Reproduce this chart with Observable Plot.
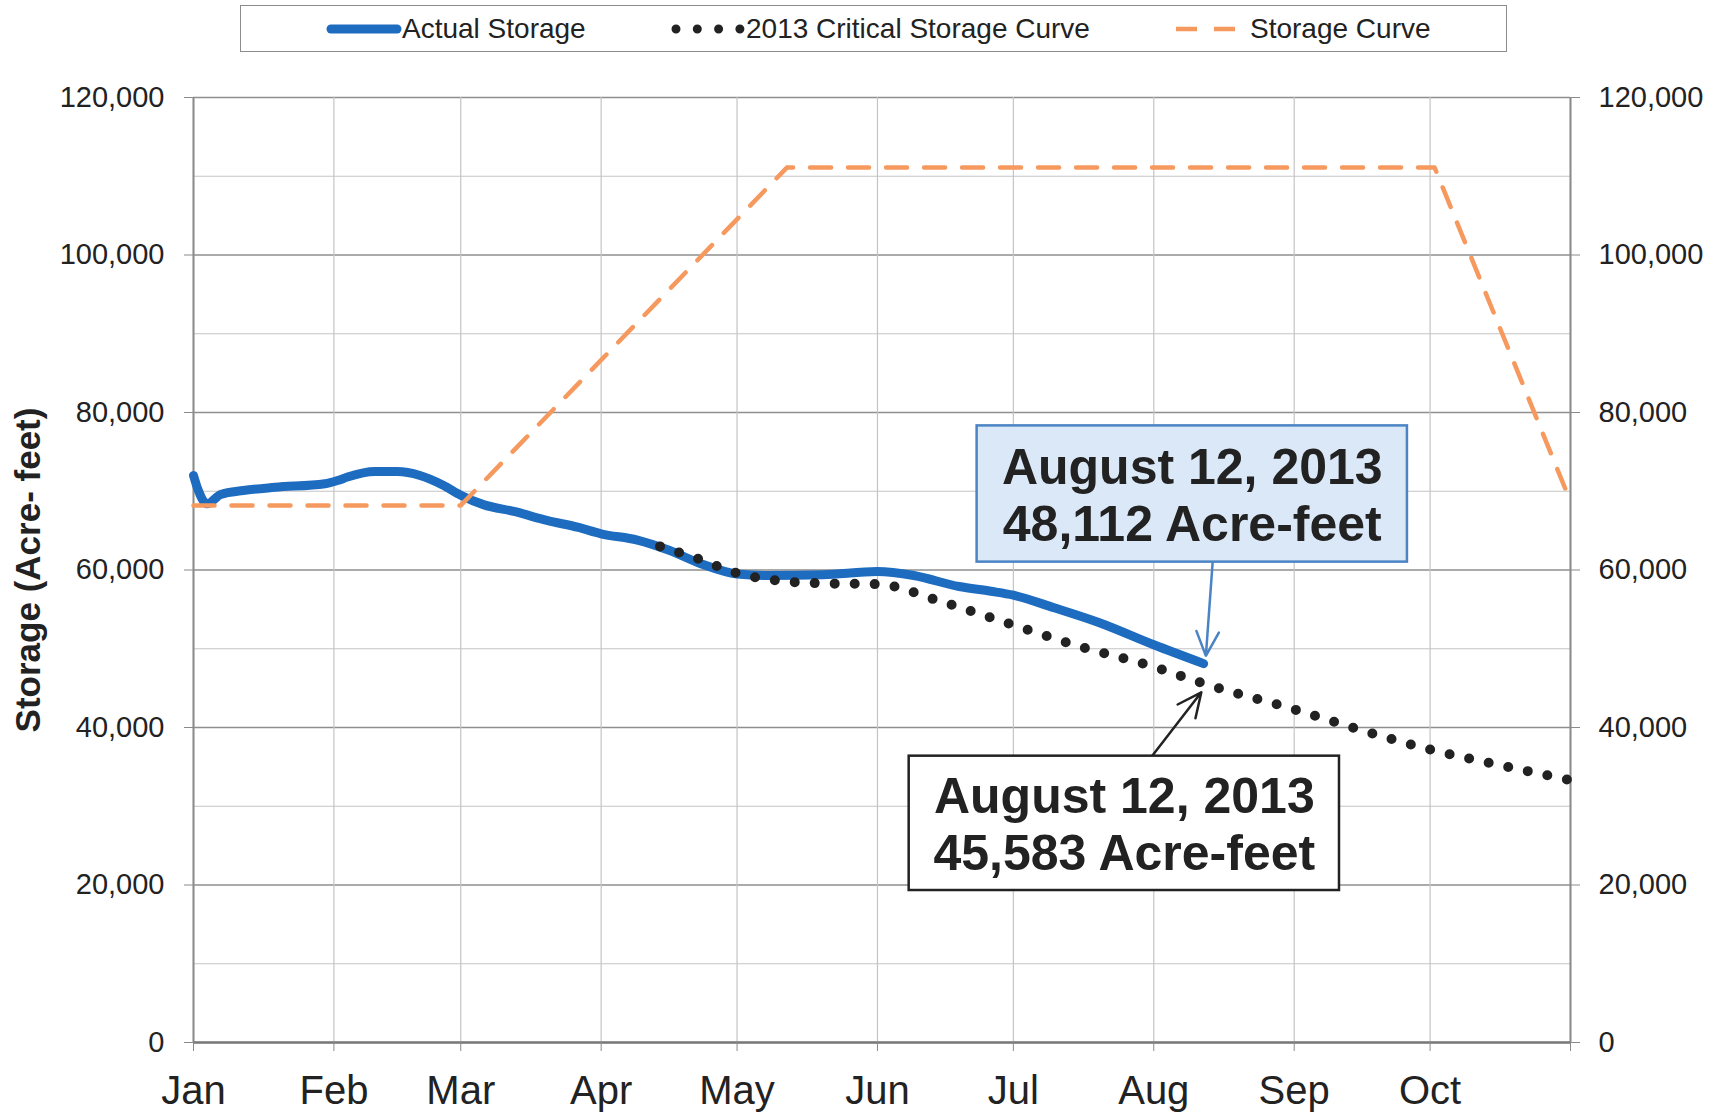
<!DOCTYPE html>
<html>
<head>
<meta charset="utf-8">
<script src="https://cdn.jsdelivr.net/npm/d3@7"></script>
<script src="https://cdn.jsdelivr.net/npm/@observablehq/plot@0.6"></script>
<style>
  body { margin: 0; background: #fff; font-family: "Liberation Sans", Arial, sans-serif; }
  #legend { position: relative; width: 1727px; height: 60px; }
  #legend .box { position: absolute; left: 240px; top: 5px; width: 1265px; height: 45px; border: 1.5px solid #8c8c8c; }
  #legend .item { position: absolute; top: 5px; height: 48px; display: flex; align-items: center; font-size: 28px; color: #222; }
  #legend svg { display: block; }
</style>
</head>
<body>
<div id="legend"><div class="box"></div></div>
<div id="chart"></div>
<script>
// ---- data ----
const seriesNames = ["Actual Storage", "2013 Critical Storage Curve", "Storage Curve"];
const monthLabels = ["Jan", "Feb", "Mar", "Apr", "May", "Jun", "Jul", "Aug", "Sep", "Oct"];
const monthTickDates = ["2013-01-01","2013-02-01","2013-03-01","2013-04-01","2013-05-01","2013-06-01","2013-07-01","2013-08-01","2013-09-01","2013-10-01","2013-11-01"];
const yTicks = [0, 20000, 40000, 60000, 80000, 100000, 120000];
const yGridMinor = [10000, 30000, 50000, 70000, 90000, 110000];
const yTitle = "Storage (Acre- feet)";

const actualDates = ["2013-01-01","2013-01-02","2013-01-04","2013-01-07","2013-01-12","2013-01-19","2013-01-30","2013-02-02","2013-02-04","2013-02-10","2013-02-15","2013-02-20","2013-02-25","2013-03-01","2013-03-06","2013-03-13","2013-03-20","2013-03-27","2013-04-01","2013-04-09","2013-04-16","2013-04-23","2013-05-01","2013-05-08","2013-05-20","2013-06-01","2013-06-09","2013-06-19","2013-06-26","2013-07-01","2013-07-10","2013-07-20","2013-08-01","2013-08-12"];
const actualValues = [72000,70200,68400,69600,70100,70500,70950,71400,71800,72500,72500,72000,70800,69500,68300,67400,66300,65400,64600,63800,62500,60800,59500,59300,59400,59800,59300,57900,57300,56800,55200,53300,50500,48112];

const criticalDates = ["2013-04-14","2013-04-22","2013-05-01","2013-05-08","2013-05-20","2013-06-01","2013-06-15","2013-07-01","2013-07-15","2013-08-01","2013-08-12","2013-09-01","2013-09-15","2013-10-01","2013-10-15","2013-11-01"];
const criticalValues = [63000,61500,59600,58800,58300,58200,56000,53000,50400,47700,45583,42300,39800,37200,35400,33300];

const curveDates = ["2013-01-01","2013-03-01","2013-05-12","2013-10-02","2013-11-01"];
const curveValues = [68200,68200,111100,111100,68700];

// annotation boxes
const noteTexts = ["August 12, 2013\n48,112 Acre-feet", "August 12, 2013\n45,583 Acre-feet"];
const noteX1 = ["2013-06-23", "2013-06-08"];
const noteX2 = ["2013-09-26", "2013-09-11"];
const noteYTop = [78300, 36360];
const noteYBottom = [61000, 19300];
const noteFill = ["#dbe8f7", "#ffffff"];
const noteStroke = ["#4a84c4", "#222222"];
const arrowStartDates = ["2013-08-14", "2013-07-31T14:00"];
const arrowStartValues = [61000, 36360];
const arrowEndDates = ["2013-08-12T12:00", "2013-08-11T12:00"];
const arrowEndValues = [49100, 44470];

// ---- tables ----
const P = (s) => new Date(s.length <= 10 ? s + "T00:00Z" : s + "Z");
const actual = actualDates.map((d, i) => ({date: P(d), value: actualValues[i]}));
const critical = criticalDates.map((d, i) => ({date: P(d), value: criticalValues[i]}));
const curve = curveDates.map((d, i) => ({date: P(d), value: curveValues[i]}));
const notes = noteTexts.map((t, i) => {
  const x1 = P(noteX1[i]), x2 = P(noteX2[i]);
  return {text: t, x1, x2, y1: noteYTop[i], y2: noteYBottom[i],
    xc: new Date((+x1 + +x2) / 2), yc: (noteYTop[i] + noteYBottom[i]) / 2,
    fill: noteFill[i], stroke: noteStroke[i],
    ax1: P(arrowStartDates[i]), ay1: arrowStartValues[i], ax2: P(arrowEndDates[i]), ay2: arrowEndValues[i]};
});
const monthTicks = monthTickDates.map(P);
const fmt = d3.format(",");

const blue = "#1e6cc0", orange = "#f6995e", dark = "#222";

const chart = Plot.plot({
  width: 1727,
  height: 1054,
  marginTop: 37,
  marginBottom: 72,
  marginLeft: 193,
  marginRight: 157,
  x: {type: "utc", domain: [monthTicks[0], monthTicks[monthTicks.length - 1]]},
  y: {domain: [0, 120000]},
  style: {fontFamily: "'Liberation Sans', Arial, sans-serif", background: "#fff", color: "#222", overflow: "visible"},
  marks: [
    Plot.gridY(yGridMinor, {stroke: "#c4c4c4", strokeOpacity: 1, strokeWidth: 1.2}),
    Plot.gridY(yTicks, {stroke: "#8e8e8e", strokeOpacity: 1, strokeWidth: 1.5}),
    Plot.gridX(monthTicks, {stroke: "#c4c4c4", strokeOpacity: 1, strokeWidth: 1.2}),
    Plot.ruleX([monthTicks[0], monthTicks[monthTicks.length - 1]], {stroke: "#8a8a8a", strokeWidth: 2}),
    Plot.ruleY([0], {stroke: "#7a7a7a", strokeWidth: 2.5}),
    Plot.axisY({anchor: "left", ticks: yTicks, tickFormat: fmt, tickSize: 9, tickPadding: 20, fontSize: 29, label: null, stroke: "#8a8a8a"}),
    Plot.axisY({anchor: "right", ticks: yTicks, tickFormat: fmt, tickSize: 9, tickPadding: 19, fontSize: 29, label: null, stroke: "#8a8a8a"}),
    Plot.axisX({ticks: monthTicks, tickFormat: (d) => monthLabels[d.getUTCMonth()] ?? "", tickSize: 9, tickPadding: 24, fontSize: 40, label: null, stroke: "#8a8a8a"}),
    Plot.text([yTitle], {frameAnchor: "left", text: (d) => d, rotate: -90, dx: -165, textAnchor: "middle", lineAnchor: "middle", fontSize: 35, fontWeight: "bold", fill: dark}),
    Plot.line(actual, {x: "date", y: "value", stroke: blue, strokeWidth: 9, curve: "monotone-x", strokeLinecap: "round", strokeLinejoin: "round"}),
    Plot.line(curve, {x: "date", y: "value", stroke: orange, strokeWidth: 4.5, strokeDasharray: "21 17"}),
    Plot.line(critical, {x: "date", y: "value", stroke: dark, strokeWidth: 10, strokeDasharray: "0 20", strokeLinecap: "round", curve: "monotone-x"}),
    Plot.arrow(notes, {x1: "ax1", y1: "ay1", x2: "ax2", y2: "ay2", stroke: (d) => d.stroke, strokeWidth: 2.5, headLength: 16, headAngle: 50}),
    Plot.rect(notes, {x1: "x1", x2: "x2", y1: "y1", y2: "y2", fill: (d) => d.fill, stroke: (d) => d.stroke, strokeWidth: 2.5}),
    Plot.text(notes, {x: "xc", y: "yc", text: "text", fontSize: 50, fontWeight: "bold", fill: dark, lineHeight: 1.15, textAnchor: "middle", lineAnchor: "middle"})
  ]
});
document.getElementById("chart").appendChild(chart);

// ---- legend (HTML, above the SVG) ----
const legend = document.getElementById("legend");
const items = [
  {left: 326, name: seriesNames[0], swatch: `<svg width="76" height="20"><line x1="5" y1="10" x2="71" y2="10" stroke="${blue}" stroke-width="9" stroke-linecap="round"/></svg>`},
  {left: 668, name: seriesNames[1], swatch: `<svg width="78" height="20"><line x1="8" y1="10" x2="72" y2="10" stroke="${dark}" stroke-width="9" stroke-dasharray="0 21.3" stroke-linecap="round"/></svg>`},
  {left: 1174, name: seriesNames[2], swatch: `<svg width="76" height="20"><line x1="2" y1="10" x2="66" y2="10" stroke="${orange}" stroke-width="4.5" stroke-dasharray="21 17"/></svg>`}
];
for (const it of items) {
  const el = document.createElement("div");
  el.className = "item";
  el.style.left = it.left + "px";
  el.innerHTML = it.swatch + `<span>${it.name}</span>`;
  legend.appendChild(el);
}
</script>
</body>
</html>
